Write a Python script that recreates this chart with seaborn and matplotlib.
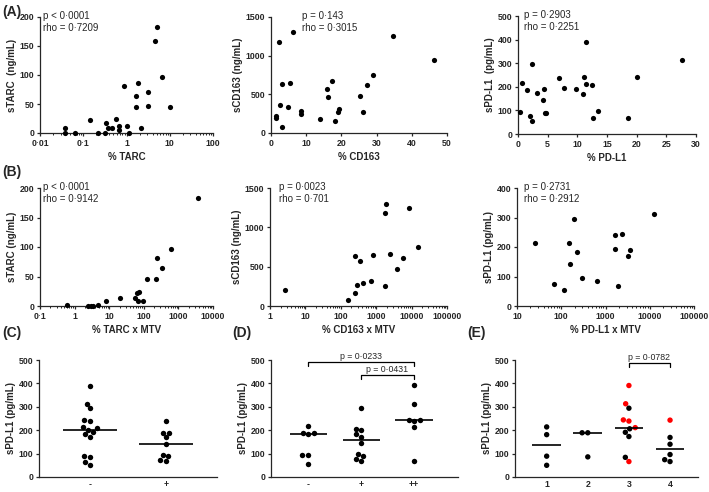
import numpy as np
import pandas as pd
import matplotlib
matplotlib.use("Agg")
import matplotlib.pyplot as plt
import seaborn as sns
from matplotlib.ticker import FuncFormatter, LogLocator, NullFormatter

# ---- data ----
# row A: tissue % vs serum level
tarc_pct = [0.037, 0.037, 0.066, 0.14, 0.22, 0.32, 0.33, 0.37, 0.46, 0.58, 0.67, 0.68,
            1.05, 1.17, 2.13, 1.63, 1.63, 3.13, 3.2, 10, 0.88, 1.85, 5.1, 4.5, 6.5]
starc_a = [8, 0, 0, 22, 0, 0, 17, 8, 9, 24, 12, 6,
           12, 0, 8, 45, 64, 47, 70, 44, 81, 86, 183, 159, 97]

cd163_pct = [3.0, 5.5, 2.5, 4.7, 1.5, 1.3, 3.0, 8.5, 8.6, 14.0, 15.8, 16.3,
             17.3, 19.2, 19.1, 18.2, 25.2, 26.0, 27.2, 29.0, 46.4, 2.3, 6.2, 34.6]
scd163_a = [634, 643, 364, 339, 223, 193, 77, 279, 249, 176, 574, 467,
            669, 313, 270, 159, 476, 274, 617, 750, 950, 1180, 1300, 1250]

pdl1_pct = [0.28, 0.62, 1.58, 2.37, 2.09, 2.43, 3.16, 4.17, 4.46, 4.51, 4.74, 6.88,
            7.73, 9.76, 11.0, 11.2, 11.4, 11.45, 12.5, 12.6, 13.5, 18.6, 20.1, 27.6]
spdl1_a = [92, 215, 185, 295, 75, 54, 175, 143, 189, 88, 90, 239,
           193, 191, 170, 243, 213, 391, 206, 69, 97, 68, 242, 313]

# row B: tissue % x MTV vs serum level
tarc_mtv = [0.6, 2.5, 3.0, 3.4, 4.6, 8, 21, 55, 63, 75, 66, 95, 120, 225, 240, 330, 600, 3800]
starc_b = [1, 0, 0, 0, 1, 8, 14, 13, 22, 24, 9, 8, 45, 45, 81, 64, 97, 183]

cd163_mtv = [2.6, 165, 244, 290, 253, 345, 430, 720, 830, 1740, 1920, 1830, 2500,
             3900, 5800, 8400, 15000]
scd163_b = [204, 77, 166, 272, 633, 574, 289, 323, 646, 1181, 1300, 251, 667,
            476, 616, 1249, 752]

pdl1_mtv = [25.5, 68, 115, 152, 158, 192, 228, 290, 630, 1620, 1620, 1920, 2360,
            3200, 3500, 12600]
spdl1_b = [215, 74, 53, 213, 143, 296, 184, 96, 86, 194, 239, 68, 245, 171, 190, 313]

# row C/D/E: sPD-L1 by group
c_groups = ["-"] * 15 + ["+"] * 9
c_values = [391, 294, 313, 244, 239, 202, 213, 210, 182, 192, 173, 85, 91, 51, 64,
            240, 188, 188, 169, 141, 67, 88, 95, 72]

d_groups = ["-"] * 7 + ["+"] * 10 + ["++"] * 7
d_values = [190, 218, 183, 190, 94, 94, 56,
            296, 200, 207, 183, 172, 144, 90, 99, 69, 77,
            393, 314, 245, 245, 239, 214, 68]
d_pvals = [("-", "++", 491, "p = 0·0233"), ("+", "++", 438, "p = 0·0431")]

e_groups = ["1"] * 4 + ["2"] * 3 + ["3"] * 11 + ["4"] * 6
e_values = [214, 181, 89, 50,
            189, 189, 86,
            391, 313, 239, 244, 211, 66, 294, 206, 191, 173, 84,
            243, 169, 140, 96, 74, 66]
e_colour = (["black"] * 7 + ["red"] * 6 + ["black"] * 5 + ["red"] + ["black"] * 5)
e_pvals = [("3", "4", 486, "p = 0·0782")]

# ---- style ----
sns.set_style("ticks")
plt.rcParams["font.family"] = ["Liberation Sans", "DejaVu Sans"]
plt.rcParams["axes.linewidth"] = 0.9
plt.rcParams["xtick.major.width"] = 0.9
plt.rcParams["ytick.major.width"] = 0.9
plt.rcParams["xtick.minor.width"] = 0.7
plt.rcParams["xtick.major.size"] = 2.5
plt.rcParams["ytick.major.size"] = 2.5
plt.rcParams["xtick.minor.size"] = 1.5
plt.rcParams["xtick.major.pad"] = 2
plt.rcParams["ytick.major.pad"] = 1.5

TICK_FS = 6.3
LAB_FS = 7
ANN_FS = 7

fig = plt.figure(figsize=(7.09, 4.92), dpi=100)


def box(x0, y0, x1, y1):
    return [x0 / 709, 1 - y1 / 492, (x1 - x0) / 709, (y1 - y0) / 492]


def dot_fmt(v, pos):
    return ("%g" % v).replace(".", "·")


def finish(ax, xlabel, ylabel):
    sns.despine(ax=ax)
    ax.set_xlabel(xlabel, fontsize=LAB_FS, fontweight="bold", labelpad=3)
    ax.set_ylabel(ylabel, fontsize=LAB_FS, fontweight="bold", labelpad=2)
    for lab in ax.get_xticklabels() + ax.get_yticklabels():
        lab.set_fontweight("bold")
        lab.set_fontsize(TICK_FS)


def scatter_panel(rect, x, y, xlog, xlim, xticks, ylim, yticks, xlabel, ylabel, stat, tx):
    ax = fig.add_axes(rect)
    sns.scatterplot(x=x, y=y, ax=ax, color="black", s=14, linewidth=0, clip_on=False, zorder=3)
    if xlog:
        ax.set_xscale("log")
        ax.xaxis.set_minor_locator(LogLocator(base=10, subs=np.arange(2, 10), numticks=50))
        ax.xaxis.set_minor_formatter(NullFormatter())
    ax.set_xlim(xlim)
    ax.set_xticks(xticks)
    ax.xaxis.set_major_formatter(FuncFormatter(dot_fmt))
    ax.set_ylim(ylim)
    ax.set_yticks(yticks)
    finish(ax, xlabel, ylabel)
    ax.text(tx, 1.055, stat, transform=ax.transAxes, fontsize=ANN_FS, va="top", ha="left",
            linespacing=1.3)
    return ax


scatter_panel(box(40, 17, 213, 133), tarc_pct, starc_a, True, (0.01, 100), [0.01, 0.1, 1, 10, 100],
              (0, 200), [0, 50, 100, 150, 200], "% TARC", "sTARC  (ng/mL)",
              "p < 0·0001\nrho = 0·7209", 0.015)
scatter_panel(box(271, 17, 447, 133), cd163_pct, scd163_a, False, (0, 50), [0, 10, 20, 30, 40, 50],
              (0, 1500), [0, 500, 1000, 1500], "% CD163", "sCD163 (ng/mL)",
              "p = 0·143\nrho = 0·3015", 0.175)
scatter_panel(box(518, 16, 696, 134), pdl1_pct, spdl1_a, False, (0, 30), [0, 5, 10, 15, 20, 25, 30],
              (0, 500), [0, 100, 200, 300, 400, 500], "% PD-L1", "sPD-L1  (pg/mL)",
              "p = 0·2903\nrho = 0·2251", 0.035)

scatter_panel(box(40, 188, 213, 306), tarc_mtv, starc_b, True, (0.1, 10000),
              [0.1, 1, 10, 100, 1000, 10000], (0, 200), [0, 50, 100, 150, 200],
              "% TARC x MTV", "sTARC (ng/mL)", "p < 0·0001\nrho = 0·9142", 0.015)
scatter_panel(box(270, 188, 447, 306), cd163_mtv, scd163_b, True, (1, 100000),
              [1, 10, 100, 1000, 10000, 100000], (0, 1500), [0, 500, 1000, 1500],
              "% CD163 x MTV", "sCD163 (ng/mL)", "p = 0·0023\nrho = 0·701", 0.05)
scatter_panel(box(517, 188, 694, 306), pdl1_mtv, spdl1_b, True, (10, 100000),
              [10, 100, 1000, 10000, 100000], (0, 400), [0, 100, 200, 300, 400],
              "% PD-L1 x MTV", "sPD-L1 (pg/mL)", "p = 0·2731\nrho = 0·2912", 0.04)


def group_panel(rect, groups, values, order, xlim, colours=None, pvals=()):
    ax = fig.add_axes(rect)
    df = pd.DataFrame({"group": groups, "value": values})
    if colours is None:
        sns.swarmplot(data=df, x="group", y="value", order=order, color="black", size=3.9,
                      linewidth=0, ax=ax, clip_on=False, zorder=3)
    else:
        df["col"] = colours
        sns.swarmplot(data=df, x="group", y="value", order=order, hue="col",
                      palette={"black": "black", "red": "red"}, size=3.9, linewidth=0,
                      ax=ax, legend=False, clip_on=False, zorder=3)
    sns.boxplot(data=df, x="group", y="value", order=order, ax=ax, width=0.7,
                showbox=False, showcaps=False, showfliers=False,
                whiskerprops={"visible": False},
                medianprops={"color": "black", "linewidth": 1.2}, zorder=4)
    ax.set_xlim(xlim)
    ax.set_ylim(0, 500)
    ax.set_yticks([0, 100, 200, 300, 400, 500])
    ax.tick_params(axis="x", length=0, pad=2)
    finish(ax, "", "sPD-L1 (pg/mL)")
    for a, b, yv, txt in pvals:
        xa, xb = order.index(a), order.index(b)
        ax.plot([xa, xa, xb, xb], [yv - 18, yv, yv, yv - 18], color="black", lw=0.9,
                clip_on=False)
        ax.text((xa + xb) / 2, yv + 4, txt, ha="center", va="bottom", fontsize=6.3,
                clip_on=False)
    return ax


group_panel(box(39, 360, 217, 477), c_groups, c_values, ["-", "+"], (-0.67, 1.67))
group_panel(box(271, 360, 458, 477), d_groups, d_values, ["-", "+", "++"], (-0.7, 2.83),
            pvals=d_pvals)
group_panel(box(515, 360, 698, 477), e_groups, e_values, ["1", "2", "3", "4"], (-0.77, 3.68),
            colours=e_colour, pvals=e_pvals)

# panel letters
for lx, ly, letter in [(2, 12, "(A)"), (2, 172, "(B)"), (2, 333, "(C)"), (232, 333, "(D)"),
                       (467, 333, "(E)")]:
    fig.text(lx / 709, 1 - ly / 492, letter, fontsize=10, fontweight="bold", va="center", ha="left")

fig.savefig("out.png", dpi=100)
